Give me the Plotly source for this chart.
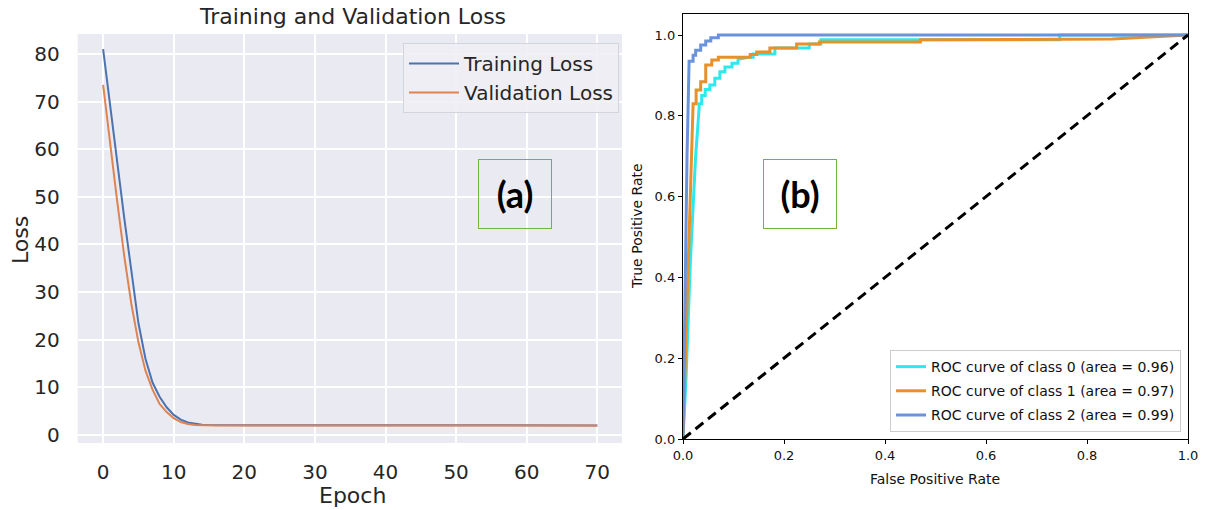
import plotly.graph_objects as go

# ---------------- data ----------------
epochs = list(range(71))
train_loss = [81.0, 69.0, 57.0, 45.5, 34.5, 23.5, 16.0, 11.0, 8.0, 5.8,
              4.2, 3.2, 2.6, 2.3, 2.15, 2.1, 2.07, 2.05, 2.04, 2.03,
              2.02, 2.02, 2.02, 2.01, 2.01, 2.01, 2.01, 2.0, 2.0, 2.0,
              2.0, 2.0, 2.0, 2.0, 2.0, 2.0, 2.0, 2.0, 2.0, 2.0,
              2.0, 2.0, 2.0, 2.0, 2.0, 2.0, 2.0, 2.0, 2.0, 2.0,
              2.0, 2.0, 2.0, 2.0, 2.0, 2.0, 2.0, 2.0, 2.0, 2.0,
              2.0, 2.0, 2.0, 2.0, 2.0, 2.0, 2.0, 2.0, 2.0, 2.0, 2.0]
val_loss = [73.5, 61.0, 49.0, 37.5, 27.5, 19.5, 13.5, 9.5, 6.5, 4.8,
            3.5, 2.7, 2.3, 2.1, 2.02, 1.99, 1.98, 1.97, 1.97, 1.97,
            1.96, 1.96, 1.96, 1.96, 1.96, 1.96, 1.96, 1.96, 1.96, 1.96,
            1.96, 1.96, 1.96, 1.96, 1.96, 1.96, 1.96, 1.96, 1.96, 1.96,
            1.96, 1.96, 1.96, 1.96, 1.96, 1.96, 1.96, 1.96, 1.96, 1.96,
            1.96, 1.96, 1.96, 1.96, 1.96, 1.96, 1.96, 1.96, 1.96, 1.96,
            1.96, 1.96, 1.96, 1.96, 1.96, 1.96, 1.96, 1.96, 1.96, 1.96, 1.96]

fpr0 = [0.0, 0.006, 0.015, 0.025, 0.032, 0.032, 0.037, 0.037, 0.044, 0.044,
        0.053, 0.053, 0.063, 0.063, 0.073, 0.073, 0.083, 0.083, 0.097, 0.097,
        0.109, 0.109, 0.13, 0.139, 0.139, 0.182, 0.182, 0.25, 0.25, 0.273,
        0.273, 0.746, 0.746, 1.0]
tpr0 = [0.0, 0.15, 0.45, 0.70, 0.82, 0.83, 0.83, 0.85, 0.85, 0.865,
        0.865, 0.876, 0.876, 0.893, 0.893, 0.909, 0.909, 0.921, 0.921, 0.93,
        0.93, 0.94, 0.945, 0.945, 0.953, 0.953, 0.968, 0.968, 0.978, 0.978,
        0.988, 0.988, 1.0, 1.0]

fpr1 = [0.0, 0.005, 0.012, 0.018, 0.02, 0.026, 0.026, 0.035, 0.035, 0.045,
        0.045, 0.057, 0.057, 0.07, 0.07, 0.133, 0.133, 0.146, 0.146, 0.172,
        0.172, 0.225, 0.225, 0.27, 0.27, 0.47, 0.47, 0.85, 1.0]
tpr1 = [0.0, 0.2, 0.5, 0.75, 0.83, 0.83, 0.864, 0.864, 0.884, 0.884,
        0.926, 0.926, 0.938, 0.938, 0.945, 0.945, 0.952, 0.952, 0.958, 0.958,
        0.968, 0.968, 0.978, 0.978, 0.983, 0.983, 0.988, 0.99, 1.0]

fpr2 = [0.0, 0.003, 0.008, 0.012, 0.012, 0.02, 0.02, 0.025, 0.025, 0.035,
        0.035, 0.045, 0.045, 0.055, 0.055, 0.07, 0.07, 1.0]
tpr2 = [0.0, 0.3, 0.7, 0.93, 0.935, 0.935, 0.95, 0.95, 0.962, 0.962,
        0.975, 0.975, 0.985, 0.985, 0.993, 0.993, 1.0, 1.0]

roc_names = ["ROC curve of class 0 (area = 0.96)",
             "ROC curve of class 1 (area = 0.97)",
             "ROC curve of class 2 (area = 0.99)"]
roc_colors = ["#2ee8ee", "#e8902a", "#6b93dc"]

diag = [0.0, 1.0]

# ---------------- figure ----------------
W, H = 1205, 510
def px(x): return x / W
def py(y): return 1 - y / H

fig = go.Figure()
DARK = "#262626"
BLK = "#111111"
FONT = "DejaVu Sans"

fig.add_trace(go.Scatter(x=epochs, y=train_loss, mode="lines", name="Training Loss",
                         line=dict(color="#4c72b0", width=2), xaxis="x", yaxis="y",
                         legend="legend", legendgroup="a"))
fig.add_trace(go.Scatter(x=epochs, y=val_loss, mode="lines", name="Validation Loss",
                         line=dict(color="#dd8452", width=2), xaxis="x", yaxis="y",
                         legend="legend", legendgroup="b"))

for f, t, n, c, g in zip([fpr0, fpr1, fpr2], [tpr0, tpr1, tpr2], roc_names, roc_colors, ["c0", "c1", "c2"]):
    fig.add_trace(go.Scatter(x=f, y=t, mode="lines", name=n,
                             line=dict(color=c, width=3), xaxis="x2", yaxis="y2",
                             legend="legend2", legendgroup=g))
fig.add_trace(go.Scatter(x=diag, y=diag, mode="lines", showlegend=False,
                         line=dict(color="black", width=3, dash="10px,6px"),
                         xaxis="x2", yaxis="y2"))

fig.update_layout(
    template="none",
    width=W, height=H, margin=dict(l=0, r=0, t=0, b=0, pad=0, autoexpand=False),
    paper_bgcolor="white", plot_bgcolor="white",
    font=dict(family=FONT, color=DARK),
    xaxis=dict(domain=[px(77.7), px(622)], range=[-3.6, 73.5], automargin=False,
               tickvals=[0, 10, 20, 30, 40, 50, 60, 70],
               showgrid=True, gridcolor="white", gridwidth=1.5, zeroline=False,
               ticks="outside", ticklen=11, tickcolor="rgba(0,0,0,0)",
               tickfont=dict(size=20, color=DARK, family=FONT), showline=False),
    yaxis=dict(domain=[py(443), py(34)], range=[-1.7, 84.2], automargin=False,
               tickvals=[0, 10, 20, 30, 40, 50, 60, 70, 80],
               showgrid=True, gridcolor="white", gridwidth=1.5, zeroline=False,
               ticks="outside", ticklen=13, tickcolor="rgba(0,0,0,0)",
               tickfont=dict(size=20, color=DARK, family=FONT), showline=False),
    xaxis2=dict(domain=[px(683), px(1188)], range=[0, 1], anchor="y2", automargin=False,
                tickvals=[0, 0.2, 0.4, 0.6, 0.8, 1.0], tickformat=".1f",
                showgrid=False, zeroline=False, showline=True, linecolor="black",
                linewidth=1.3, mirror=True, ticks="outside", ticklen=4,
                tickcolor="black", tickwidth=1,
                tickfont=dict(size=13, color=BLK, family=FONT)),
    yaxis2=dict(domain=[py(439), py(14)], range=[0, 1.052], anchor="x2", automargin=False,
                tickvals=[0, 0.2, 0.4, 0.6, 0.8, 1.0], tickformat=".1f",
                showgrid=False, zeroline=False, showline=True, linecolor="black",
                linewidth=1.3, mirror=True, ticks="outside", ticklen=4,
                tickcolor="black", tickwidth=1,
                tickfont=dict(size=13, color=BLK, family=FONT)),
    legend=dict(x=px(619), y=py(43), xanchor="right", yanchor="top",
                bgcolor="rgba(238,238,244,0.9)", bordercolor="#d4d4dc", borderwidth=1,
                font=dict(size=20, color=DARK, family=FONT),
                tracegroupgap=0, itemwidth=50),
    legend2=dict(x=px(1181), y=py(432), xanchor="right", yanchor="bottom",
                 bgcolor="white", bordercolor="#cccccc", borderwidth=1,
                 font=dict(size=14, color=BLK, family=FONT),
                 tracegroupgap=3, itemwidth=30),
    shapes=[dict(type="rect", xref="x domain", yref="y domain", x0=0, x1=1, y0=0, y1=1,
                 fillcolor="#eaeaf2", line=dict(width=0), layer="below")],
)

def ann(text, x, y, size, color, angle=0, family=FONT, **kw):
    return dict(text=text, x=px(x), y=py(y), xref="paper", yref="paper",
                xanchor="center", yanchor="middle", textangle=angle,
                showarrow=False, font=dict(size=size, color=color, family=family), **kw)

anns = [
    ann("Training and Validation Loss", 352, 17, 22, DARK),
    ann("Loss", 20, 240, 22, DARK, angle=-90),
    ann("Epoch", 352, 495, 22, DARK),
    ann("True Positive Rate", 637, 226, 14, BLK, angle=-90),
    ann("False Positive Rate", 935, 479, 14, BLK),
    ann("<b>(a)</b>", 515, 194, 36, "black", family="Lato",
        width=70, height=66, bordercolor="#6fb445", borderwidth=1),
    ann("<b>(b)</b>", 800, 194, 36, "black", family="Lato",
        width=70, height=66, bordercolor="#6fb445", borderwidth=1),
]
fig.update_layout(annotations=anns)

fig.write_html("out.html", config={"displayModeBar": False},
               post_script="document.body.style.margin='0px';document.body.style.padding='0px';")
